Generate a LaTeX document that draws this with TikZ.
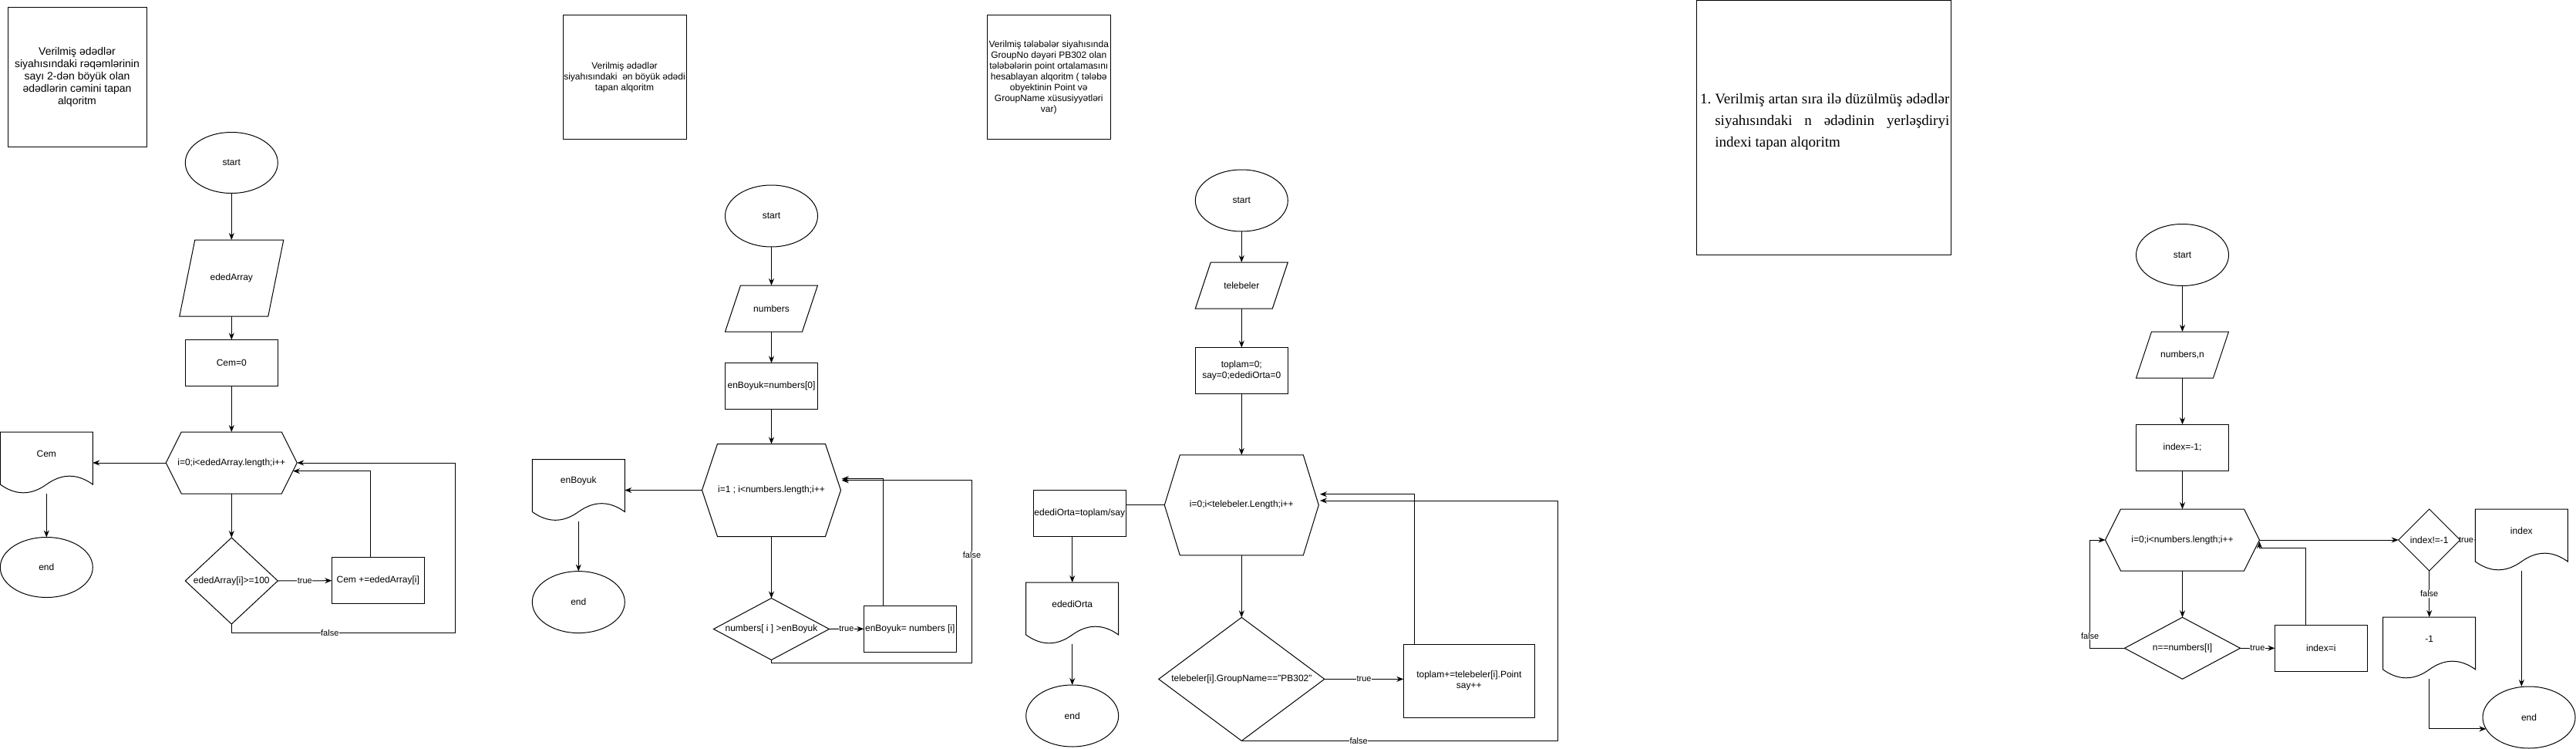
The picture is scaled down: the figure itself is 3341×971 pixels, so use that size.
\documentclass[tikz,border=0pt]{standalone}
\usepackage{fontspec}
\setmainfont{Liberation Sans}
\newfontfamily\ttlserif{Liberation Serif}
\usetikzlibrary{shapes.geometric,arrows.meta,calc,backgrounds}

\newcommand\fsz[2]{\fontsize{#1}{#2}\selectfont}

\tikzset{
  txt/.style={font=\fsz{12}{14}, align=center, inner sep=0pt, outer sep=0pt},
  inv/.style={txt, draw=none, rectangle},
  ellnode/.style={txt, ellipse, draw, line width=1pt, fill=white},
  boxnode/.style={txt, rectangle, draw, line width=1pt, fill=white},
  shp/.style={line width=1pt, draw=black, fill=white},
  arr/.style={line width=1pt, -{Stealth[length=9pt,width=7pt,inset=3pt]}},
  ln/.style={line width=1pt},
  lbl/.style={font=\fsz{11}{13}, fill=white, inner sep=0.5pt, text=black},
}

% name, cx, cy, w, h, inset, text
\newcommand\hexnode[7]{%
  \draw[shp] ({#2-#4/2},#3) -- ({#2-#4/2+#6},{#3-#5/2}) -- ({#2+#4/2-#6},{#3-#5/2}) -- ({#2+#4/2},#3) -- ({#2+#4/2-#6},{#3+#5/2}) -- ({#2-#4/2+#6},{#3+#5/2}) -- cycle;
  \node[inv, minimum width=#4pt, minimum height=#5pt] (#1) at (#2,#3) {#7};
}
% name, cx, cy, w, h, slant, text
\newcommand\paranode[7]{%
  \draw[shp] ({#2-#4/2},{#3+#5/2}) -- ({#2-#4/2+#6},{#3-#5/2}) -- ({#2+#4/2},{#3-#5/2}) -- ({#2+#4/2-#6},{#3+#5/2}) -- cycle;
  \node[inv, minimum width=#4pt, minimum height=#5pt] (#1) at (#2,#3) {#7};
}
% name, cx, cy, w, h, text
\newcommand\dianode[6]{%
  \draw[shp] ({#2-#4/2},#3) -- (#2,{#3-#5/2}) -- ({#2+#4/2},#3) -- (#2,{#3+#5/2}) -- cycle;
  \node[inv, minimum width=#4pt, minimum height=#5pt] (#1) at (#2,#3) {#6};
}
% name, cx, cy, w, h, text
\newcommand\docnode[6]{%
  \draw[shp] ({#2-#4/2},{#3-#5/2}) -- ({#2+#4/2},{#3-#5/2}) -- ({#2+#4/2},{#3+0.35*#5})
    .. controls ({#2+#4/3},{#3+0.17*#5}) and ({#2+#4/6},{#3+0.17*#5}) .. (#2,{#3+0.35*#5})
    .. controls ({#2-#4/6},{#3+0.53*#5}) and ({#2-#4/3},{#3+0.53*#5}) .. ({#2-#4/2},{#3+0.35*#5}) -- cycle;
  \node[inv, minimum width=#4pt, minimum height=#5pt] (#1) at (#2,#3) {};
  \node[txt] (#1-t) at (#2,{#3-0.15*#5}) {#6};
}

\begin{document}
\begin{tikzpicture}[x=1pt,y=-1pt]
\useasboundingbox (0,0) rectangle (3341,971);

% ---------------- chart 1 ----------------
\node[boxnode, font=\fsz{14}{16}, minimum width=180pt, minimum height=180pt] (t1) at (100,100)
  {Verilmiş ədədlər\\siyahısındaki rəqəmlərinin\\sayı 2-dən böyük olan\\ədədlərin cəmini tapan\\alqoritm};
\node[ellnode, minimum width=120pt, minimum height=79pt] (s1) at (300.3,211) {start};
\paranode{in1}{300.3}{360.5}{135}{99}{20}{ededArray}
\node[boxnode, minimum width=120pt, minimum height=60pt] (c1) at (300.3,470.5) {Cem=0};
\hexnode{h1}{300.3}{600}{170}{80}{20}{i=0;i<ededArray.length;i++}
\docnode{o1}{60.3}{600}{120}{80}{Cem}
\node[ellnode, minimum width=120pt, minimum height=78pt] (e1) at (60.3,735.5) {end};
\dianode{d1}{300.3}{753}{120}{112}{ededArray[i]>=100}
\node[boxnode, minimum width=120pt, minimum height=60pt] (r1) at (490.3,752.7) {Cem +=ededArray[i]};
\coordinate (h1a) at (380,610.7);
\coordinate (h1b) at (590,820.5);

% ---------------- chart 2 ----------------
\node[boxnode, minimum width=160pt, minimum height=160pt] (t2) at (810,100)
  {Verilmiş ədədlər\\siyahısındaki\ \ ən böyük ədədi\\tapan alqoritm};
\node[ellnode, minimum width=120pt, minimum height=80pt] (s2) at (1000.5,280) {start};
\paranode{in2}{1000.5}{400}{120}{60}{20}{numbers}
\node[boxnode, minimum width=120pt, minimum height=60pt] (c2) at (1000.5,500.5) {enBoyuk=numbers[0]};
\hexnode{h2}{1000.5}{635.5}{180}{120}{20}{i=1 ; i<numbers.length;i++}
\docnode{o2}{750.3}{635.5}{120}{80}{enBoyuk}
\node[ellnode, minimum width=120pt, minimum height=80pt] (e2) at (750.3,780.6) {end};
\dianode{d2}{1000.5}{815.5}{150}{80}{numbers[ i ] >enBoyuk}
\node[boxnode, minimum width=120pt, minimum height=60pt] (r2) at (1180.3,815.3) {enBoyuk= numbers [i]};
\coordinate (h2a) at (1091.7,620.7);
\coordinate (h2b) at (1260.5,859.5);
\coordinate (h2c) at (1260.5,622.8);
\coordinate (h2d) at (1091.7,622.8);

% ---------------- chart 3 ----------------
\node[boxnode, minimum width=160pt, minimum height=160pt] (t3) at (1360.3,100)
  {Verilmiş tələbələr siyahısında\\GroupNo dəyəri PB302 olan\\tələbələrin point ortalamasını\\hesablayan alqoritm ( tələbə\\obyektinin Point və\\GroupName xüsusiyyətləri\\var)};
\node[ellnode, minimum width=120pt, minimum height=80pt] (s3) at (1610.3,260) {start};
\paranode{in3}{1610.3}{370}{120}{60}{20}{telebeler}
\node[boxnode, minimum width=120pt, minimum height=60pt] (c3) at (1610.3,480.5) {toplam=0;\\say=0;edediOrta=0};
\hexnode{h3}{1610.3}{654.8}{200}{130}{20}{i=0;i<telebeler.Length;i++}
\dianode{d3}{1610.3}{880.4}{215}{160}{telebeler[i].GroupName=="PB302"}
\node[boxnode, minimum width=170pt, minimum height=95pt] (r3) at (1905.3,882.7) {toplam+=telebeler[i].Point\\say++};
\node[boxnode, minimum width=120pt, minimum height=60pt] (o3) at (1400.3,665) {edediOrta=toplam/say};
\docnode{q3}{1390.7}{795}{120}{80}{edediOrta}
\node[ellnode, minimum width=120pt, minimum height=80pt] (e3) at (1390.7,928) {end};
\coordinate (h3a) at (1712,640.7);
\coordinate (h3b) at (2020.7,960.4);
\coordinate (h3c) at (1712,649);

% ---------------- chart 4 ----------------
\node[boxnode, minimum width=330pt, minimum height=329.5pt] (t4) at (2365,165.25) {};
\node[inv, anchor=north west, align=left, font=\ttlserif\fsz{19}{28}] (t4x) at (2224.3,121)
  {\llap{1.\hspace{5pt}}\makebox[304pt][s]{Verilmiş artan sıra ilə düzülmüş ədədlər}\\
   \makebox[304pt][s]{siyahısındaki n ədədinin yerləşdiryi}\\
   indexi tapan alqoritm};
\node[ellnode, minimum width=120pt, minimum height=80pt] (s4) at (2830.5,330.5) {start};
\paranode{in4}{2830.5}{460}{120}{60}{20}{numbers,n}
\node[boxnode, minimum width=120pt, minimum height=60pt] (c4) at (2830.5,580.3) {index=-1;};
\hexnode{h4}{2830.5}{700}{200}{80}{20}{i=0;i<numbers.length;i++}
\dianode{d4}{2830.5}{840.3}{150}{80}{n==numbers[I]}
\node[boxnode, minimum width=120pt, minimum height=60pt] (r4) at (3010.3,840.3) {index=i};
\dianode{d5}{3150.7}{700}{80}{80}{index!=-1}
\docnode{o4}{3270.3}{700}{120}{80}{index}
\docnode{o5}{3150.7}{840}{120}{80}{-1}
\node[ellnode, minimum width=120pt, minimum height=80pt] (e4) at (3280,930) {end};
\coordinate (h4a) at (2930.5,710.7);
\coordinate (h4b) at (2930.5,702);
\coordinate (h4c) at (2710.7,840.3);
\coordinate (h4d) at (2710.7,700);

% ---------------- connectors ----------------
\begin{scope}[on background layer]
% chart 1
\draw[arr] (s1) -- (in1);
\draw[arr] (in1) -- (c1);
\draw[arr] (c1) -- (h1);
\draw[arr] (h1.south) -- (d1.north);
\draw[arr] (h1.west) -- (o1.east);
\draw[arr] (o1) -- (e1);
\draw[arr] (d1.east) -- node[lbl]{true} (r1.west);
\draw[arr] ($(r1.north)+(-9.6,0)$) |- (h1a);
\draw[arr] (d1.south) |- node[lbl, pos=0.72]{false} (h1b) |- (h1.east);
% chart 2
\draw[arr] (s2) -- (in2);
\draw[arr] (in2) -- (c2);
\draw[arr] (c2) -- (h2);
\draw[arr] (h2.south) -- (d2.north);
\draw[arr] (h2.west) -- (o2.east);
\draw[arr] (o2) -- (e2);
\draw[arr] (d2.east) -- node[lbl]{true} (r2.west);
\draw[arr] ($(r2.north)+(-34.6,0)$) |- (h2a);
\draw[arr] (d2.south) |- (h2b) -- node[lbl, pos=0.59]{false} (h2c) -- (h2d);
% chart 3
\draw[arr] (s3) -- (in3);
\draw[arr] (in3) -- (c3);
\draw[arr] (c3) -- (h3);
\draw[arr] (h3.south) -- (d3.north);
\draw[ln] (h3.west) -- (h3.west -| o3.east);
\draw[arr] (q3.north |- o3.south) -- (q3.north);
\draw[arr] (q3) -- (e3);
\draw[arr] (d3.east) -- node[lbl]{true} (d3.east -| r3.west);
\draw[arr] ($(r3.north)+(-70.7,0)$) |- (h3a);
\draw[arr] (d3.south) -- node[lbl, pos=0.37]{false} (h3b) |- (h3c);
% chart 4
\draw[arr] (s4) -- (in4);
\draw[arr] (in4) -- (c4);
\draw[arr] (c4) -- (h4);
\draw[arr] (h4.south) -- (d4.north);
\draw[arr] (d4.east) -- node[lbl]{true} (r4.west);
\draw[arr] ($(r4.north)+(-19.6,0)$) |- (h4a) -- (h4b);
\draw[arr] (d4.west) -- (h4c) -- node[lbl, pos=0.11]{false} (h4d) -- (h4.west);
\draw[arr] (h4.east) -- (d5.west);
\draw[arr] (d5.east) -- node[lbl, pos=0.4]{true} (o4.west);
\draw[arr] (d5.south) -- node[lbl]{false} (o5.north);
\draw[arr] (o4.south) -- (o4.south |- e4.north);
\draw[arr] (o5.south) |- (e4.195);
\end{scope}
\end{tikzpicture}
\end{document}
